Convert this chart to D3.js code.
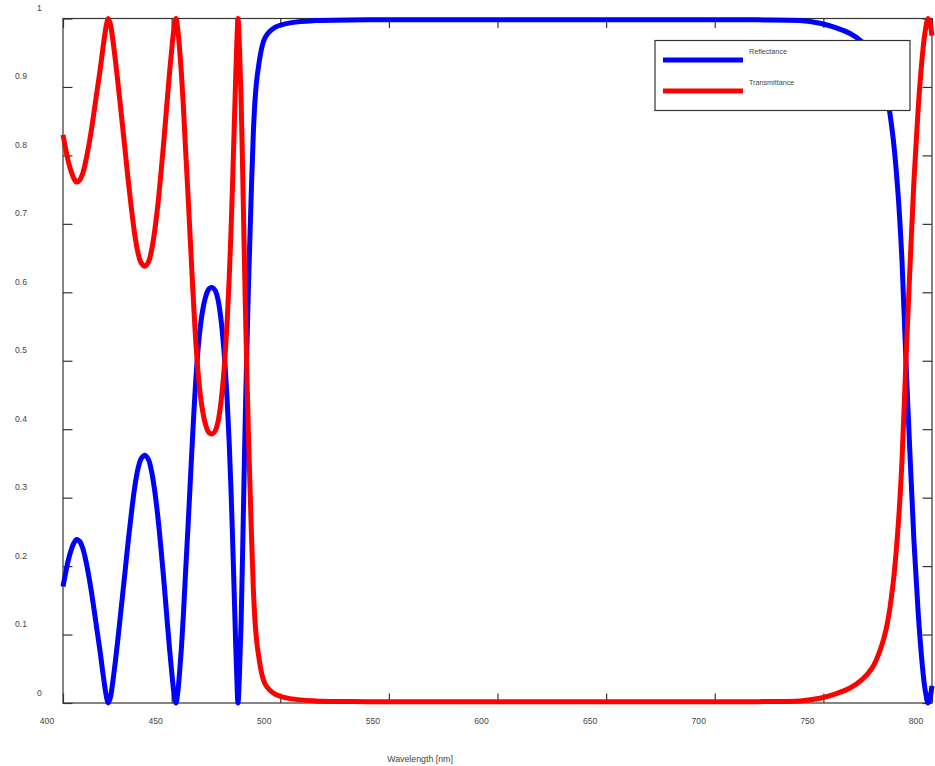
<!DOCTYPE html>
<html>
<head>
<meta charset="utf-8">
<script src="https://cdn.jsdelivr.net/npm/d3@7/dist/d3.min.js"></script>
<style>
  html, body { margin: 0; padding: 0; background: #fff; }
  svg { display: block; }
  text { font-family: "Liberation Sans", Arial, Helvetica, sans-serif; fill: #444; }
</style>
</head>
<body>
<svg id="chart" width="935" height="766"></svg>
<script>
// ---- data ----
const wavelength = [
  400, 401.2, 402.4, 403.6, 404.9, 406.3, 407.7, 409.1, 410.5, 411.9, 413.2, 414.5, 415.8, 417.0, 418.1, 419.1, 420.0, 420.8,
  421.8, 422.8, 424.0, 425.5, 427.0, 428.5, 430.0, 431.5, 433.0, 434.5, 436.0, 437.7, 439.3, 440.8, 442.3, 443.8, 445.2, 446.6, 447.9, 449.1, 450.2, 451.1, 452.0,
  452.8, 453.6, 454.5, 455.4, 456.4, 457.5, 458.7, 460.0, 461.3, 462.7, 464.2, 465.7, 467.2, 468.6, 470.0, 471.3, 472.5, 473.6, 474.6, 475.6, 476.5, 477.4, 478.2, 478.9, 479.5, 480.0, 480.55,
  481.2, 482.0, 482.8, 483.6, 484.5, 485.3, 486.1, 487.6, 488.6, 489.9, 493.0, 497.6, 505.3,
  516, 540, 600, 660, 700, 720,
  739.2, 748.4, 755.3, 762.3, 767.8, 772.4, 776.1, 779.3, 782.0, 784.3, 786.2, 788.0, 789.9, 791.7, 793.6, 795.4, 796.8, 798.2, 799.1, 800
];
const reflectance = [
  0.170, 0.190, 0.208, 0.222, 0.233, 0.239, 0.236, 0.226, 0.208, 0.185, 0.160, 0.132, 0.103, 0.077, 0.050, 0.027, 0.009, 0.000,
  0.008, 0.028, 0.058, 0.100, 0.145, 0.190, 0.236, 0.278, 0.315, 0.342, 0.357, 0.362, 0.356, 0.338, 0.308, 0.268, 0.222, 0.172, 0.122, 0.077, 0.040, 0.014, 0.000,
  0.015, 0.042, 0.080, 0.128, 0.190, 0.255, 0.330, 0.410, 0.480, 0.535, 0.572, 0.594, 0.605, 0.607, 0.603, 0.590, 0.566, 0.533, 0.493, 0.440, 0.380, 0.305, 0.225, 0.150, 0.085, 0.037, 0.000,
  0.040, 0.120, 0.240, 0.370, 0.500, 0.600, 0.686, 0.832, 0.890, 0.928, 0.972, 0.987, 0.994,
  0.997, 0.998, 0.998, 0.998, 0.998, 0.998,
  0.997, 0.993, 0.987, 0.978, 0.966, 0.949, 0.923, 0.886, 0.828, 0.747, 0.645, 0.500, 0.360, 0.236, 0.134, 0.060, 0.020, 0.000, 0.008, 0.025
];
const transmittance = [
  0.830, 0.810, 0.792, 0.778, 0.767, 0.761, 0.764, 0.774, 0.792, 0.815, 0.840, 0.868, 0.897, 0.923, 0.950, 0.973, 0.991, 1.000,
  0.992, 0.972, 0.942, 0.900, 0.855, 0.810, 0.764, 0.722, 0.685, 0.658, 0.643, 0.638, 0.644, 0.662, 0.692, 0.732, 0.778, 0.828, 0.878, 0.923, 0.960, 0.986, 1.000,
  0.985, 0.958, 0.920, 0.872, 0.810, 0.745, 0.670, 0.590, 0.520, 0.465, 0.428, 0.406, 0.395, 0.393, 0.397, 0.410, 0.434, 0.467, 0.507, 0.560, 0.620, 0.695, 0.775, 0.850, 0.915, 0.963, 1.000,
  0.960, 0.880, 0.760, 0.630, 0.500, 0.400, 0.314, 0.168, 0.110, 0.072, 0.028, 0.013, 0.006,
  0.003, 0.002, 0.002, 0.002, 0.002, 0.002,
  0.003, 0.007, 0.013, 0.022, 0.034, 0.051, 0.077, 0.114, 0.172, 0.253, 0.355, 0.500, 0.640, 0.764, 0.866, 0.940, 0.980, 1.000, 0.992, 0.975
];
const xTickValues = [400, 450, 500, 550, 600, 650, 700, 750, 800];
const xTickLabels = ["400", "450", "500", "550", "600", "650", "700", "750", "800"];
const yTickValues = [0, 0.1, 0.2, 0.3, 0.4, 0.5, 0.6, 0.7, 0.8, 0.9, 1];
const yTickLabels = ["0", "0.1", "0.2", "0.3", "0.4", "0.5", "0.6", "0.7", "0.8", "0.9", "1"];
const seriesNames = ["Reflectance", "Transmittance"];
const seriesColors = ["#0000ff", "#ff0000"];
const xTitle = "Wavelength [nm]";

// ---- layout ----
const L = 63, R = 932, T = 18.5, B = 703;
const svg = d3.select("#chart");
const x = d3.scaleLinear().domain([400, 800]).range([L, R]);
const y = d3.scaleLinear().domain([0, 1]).range([B, T]);
const axisColor = "#333";
const tickLen = 9.5;

// frame
svg.append("rect")
  .attr("x", L).attr("y", T).attr("width", R - L).attr("height", B - T)
  .attr("fill", "none").attr("stroke", axisColor).attr("stroke-width", 1.2);

// inward ticks on all four sides
const axB = d3.axisBottom(x).tickValues(xTickValues).tickSize(-tickLen).tickFormat("");
const axT = d3.axisTop(x).tickValues(xTickValues).tickSize(-tickLen).tickFormat("");
const axL = d3.axisLeft(y).tickValues(yTickValues).tickSize(-tickLen).tickFormat("");
const axR = d3.axisRight(y).tickValues(yTickValues).tickSize(-tickLen).tickFormat("");
[[axB, `translate(0,${B})`], [axT, `translate(0,${T})`], [axL, `translate(${L},0)`], [axR, `translate(${R},0)`]]
  .forEach(([ax, tr]) => {
    const g = svg.append("g").attr("transform", tr).call(ax);
    g.select(".domain").remove();
    g.selectAll(".tick line").attr("stroke", axisColor).attr("stroke-width", 1.2);
  });

// tick labels (offset as in the reference)
svg.append("g").selectAll("text").data(xTickValues).join("text")
  .attr("x", d => x(d) - 16).attr("y", 723.5)
  .attr("text-anchor", "middle").attr("font-size", "8.6px")
  .text((d, i) => xTickLabels[i]);

svg.append("g").selectAll("text").data(yTickValues).join("text")
  .attr("x", (d, i) => yTickLabels[i].length > 1 ? 15 : 37)
  .attr("y", d => y(d) - 7.5)
  .attr("text-anchor", "start").attr("font-size", "8.6px")
  .text((d, i) => yTickLabels[i]);

// axis title
svg.append("text").attr("x", 420).attr("y", 761.5)
  .attr("text-anchor", "middle").attr("font-size", "8.8px").text(xTitle);

// curves
const line = d3.line().x(d => x(d[0])).y(d => y(d[1])).curve(d3.curveCatmullRom.alpha(0.5));
const series = [reflectance, transmittance];
series.forEach((vals, k) => {
  svg.append("path")
    .datum(wavelength.map((w, i) => [w, vals[i]]))
    .attr("d", line)
    .attr("fill", "none")
    .attr("stroke", seriesColors[k])
    .attr("stroke-width", 5)
    .attr("stroke-linejoin", "round");
});

// legend
const lg = svg.append("g");
lg.append("rect").attr("x", 655).attr("y", 40.5).attr("width", 255).attr("height", 70)
  .attr("fill", "#fff").attr("stroke", axisColor).attr("stroke-width", 1.2);
seriesNames.forEach((name, k) => {
  const yy = 60 + k * 31;
  lg.append("line").attr("x1", 663).attr("x2", 743).attr("y1", yy).attr("y2", yy)
    .attr("stroke", seriesColors[k]).attr("stroke-width", 5);
  lg.append("text").attr("x", 749).attr("y", yy - 6.5)
    .attr("font-size", "7.2px").text(name);
});
</script>
</body>
</html>
